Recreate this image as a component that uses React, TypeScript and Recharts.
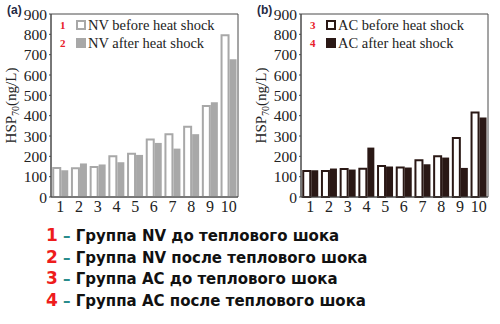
import React from "react";
import { BarChart, Bar, XAxis, YAxis, ReferenceArea } from "recharts";

const groups = ["1", "2", "3", "4", "5", "6", "7", "8", "9", "10"];
const yTicks = [0, 100, 200, 300, 400, 500, 600, 700, 800, 900];

const nvBefore = [143, 141, 148, 200, 213, 283, 308, 345, 447, 796];
const nvAfter = [131, 165, 160, 171, 207, 266, 238, 309, 466, 677];
const acBefore = [128, 128, 138, 139, 152, 145, 181, 200, 290, 415];
const acAfter = [131, 140, 135, 243, 150, 145, 161, 194, 143, 391];

const noteNums = ["1", "2", "3", "4"];
const noteTexts = [
  "Группа NV до теплового шока",
  "Группа NV после теплового шока",
  "Группа AC до теплового шока",
  "Группа AC после теплового шока",
];

const SERIF = "'Liberation Serif', 'DejaVu Serif', serif";
const AXIS = "#4a4a4a";

function YTitle(props: any) {
  const vb = props.viewBox || {};
  const x = vb.x + 11;
  const y = vb.y + vb.height / 2;
  return (
    <text
      x={x}
      y={y}
      transform={`rotate(-90 ${x} ${y})`}
      textAnchor="middle"
      dominantBaseline="central"
      fontFamily={SERIF}
      fontSize={15}
      fill="#222"
    >
      HSP
      <tspan fontSize={10} dy={4}>
        70
      </tspan>
      <tspan dy={-4}>(ng/L)</tspan>
    </text>
  );
}

function LegendBox({
  nums,
  labels,
  color,
}: {
  nums: string[];
  labels: string[];
  color: string;
}) {
  const swatch = [
    { fill: "#fff", stroke: color },
    { fill: color, stroke: color },
  ];
  return (
    <div style={{ fontFamily: SERIF }}>
      {labels.map((l, i) => (
        <div key={l} style={{ display: "flex", alignItems: "center", height: 18 }}>
          <span style={{ color: "#e8202a", fontWeight: "bold", fontSize: 11, width: 16 }}>
            {nums[i]}
          </span>
          <span
            style={{
              display: "inline-block",
              width: 6,
              height: 6,
              background: swatch[i].fill,
              border: `2px solid ${swatch[i].stroke}`,
              marginRight: 2,
            }}
          />
          <span style={{ fontSize: 14.5, color: "#222" }}>{l}</span>
        </div>
      ))}
    </div>
  );
}

function Panel({
  tag,
  before,
  after,
  color,
  nums,
  labels,
}: {
  tag: string;
  before: number[];
  after: number[];
  color: string;
  nums: string[];
  labels: string[];
}) {
  const rows = groups.map((g, i) => ({ g, before: before[i], after: after[i] }));
  return (
    <div style={{ position: "relative", width: 250, height: 220 }}>
      <BarChart
        width={250}
        height={220}
        data={rows}
        margin={{ top: 14, right: 12, left: 0, bottom: 3 }}
        barCategoryGap="12%"
        barGap={1}
      >
        <XAxis
          dataKey="g"
          height={20}
          tickLine={false}
          tickSize={0}
          tickMargin={4}
          stroke={AXIS}
          tick={{ fontFamily: SERIF, fontSize: 16, fill: "#222" }}
          interval={0}
        />
        <YAxis
          width={51}
          domain={[0, 900]}
          ticks={yTicks}
          interval={0}
          tickSize={2}
          tickMargin={2}
          stroke={AXIS}
          tick={{ fontFamily: SERIF, fontSize: 15.5, fill: "#222" }}
          label={{ content: (p: any) => <YTitle {...p} /> }}
        />
        <ReferenceArea
          y1={0}
          y2={900}
          fill="none"
          stroke={AXIS}
          strokeWidth={1}
          ifOverflow="visible"
        />
        <Bar
          dataKey="before"
          fill="#ffffff"
          stroke={color}
          strokeWidth={2}
          isAnimationActive={false}
        />
        <Bar dataKey="after" fill={color} isAnimationActive={false} />
      </BarChart>
      <div
        style={{
          position: "absolute",
          left: 7,
          top: 3,
          fontFamily: "'Liberation Sans', Arial, sans-serif",
          fontWeight: "bold",
          fontSize: 12,
          color: "#1f2a44",
        }}
      >
        {tag}
      </div>
      <div style={{ position: "absolute", left: 60, top: 16 }}>
        <LegendBox nums={nums} labels={labels} color={color} />
      </div>
    </div>
  );
}

export default function App() {
  return (
    <div
      style={{
        position: "absolute",
        left: 0,
        top: 0,
        width: 500,
        height: 324,
        background: "#fff",
        overflow: "hidden",
      }}
    >
      <div style={{ position: "absolute", left: 0, top: 0 }}>
        <Panel
          tag="(a)"
          before={nvBefore}
          after={nvAfter}
          color="#a8a8a8"
          nums={["1", "2"]}
          labels={["NV before heat shock", "NV after heat shock"]}
        />
      </div>
      <div style={{ position: "absolute", left: 250, top: 0 }}>
        <Panel
          tag="(b)"
          before={acBefore}
          after={acAfter}
          color="#2a1815"
          nums={["3", "4"]}
          labels={["AC before heat shock", "AC after heat shock"]}
        />
      </div>
      <div
        style={{
          position: "absolute",
          left: 46,
          top: 225,
          fontFamily: "'DejaVu Sans', 'Liberation Sans', sans-serif",
          fontWeight: "bold",
          fontSize: 15,
        }}
      >
        {noteTexts.map((t, i) => (
          <div key={t} style={{ height: 21.5, lineHeight: "21.5px", whiteSpace: "nowrap" }}>
            <span style={{ color: "#ee1c1c", fontSize: 17 }}>{noteNums[i]}</span>
            <span style={{ color: "#2a8c8c" }}> – </span>
            <span style={{ color: "#111" }}>{t}</span>
          </div>
        ))}
      </div>
    </div>
  );
}
